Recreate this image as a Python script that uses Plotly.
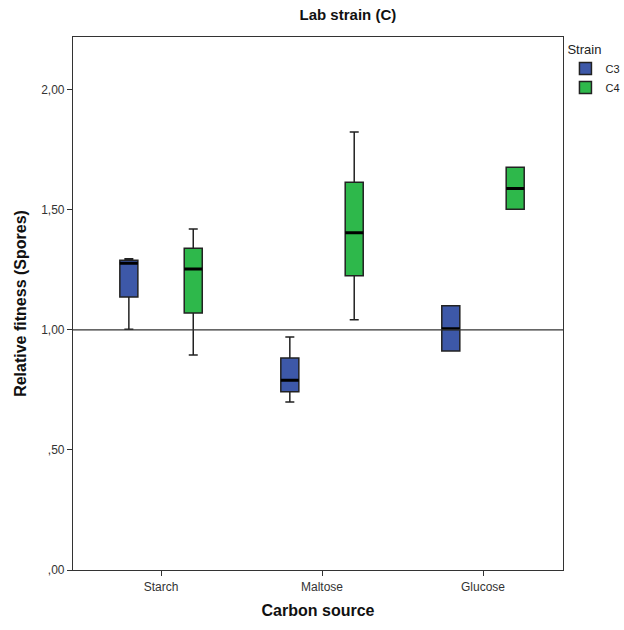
import plotly.graph_objects as go

categories = ["Starch", "Maltose", "Glucose"]
# box statistics
c3_low = [1.003, 0.70, 0.9125]
c3_q1 = [1.1375, 0.742, 0.9125]
c3_med = [1.278, 0.79, 1.005]
c3_q3 = [1.29, 0.883, 1.101]
c3_high = [1.296, 0.97, 1.101]

c4_low = [0.896, 1.042, 1.503]
c4_q1 = [1.07, 1.226, 1.503]
c4_med = [1.254, 1.405, 1.589]
c4_q3 = [1.34, 1.615, 1.678]
c4_high = [1.42, 1.824, 1.678]

tick_vals = [0, 0.5, 1.0, 1.5, 2.0]
tick_text = [",00", ",50", "1,00", "1,50", "2,00"]

BLUE = "#3d58a8"
GREEN = "#2eb84b"
FONT = "Liberation Sans, Arial, sans-serif"

fig = go.Figure()
for name, color, lo, q1, med, q3, hi in [
    ("C3", BLUE, c3_low, c3_q1, c3_med, c3_q3, c3_high),
    ("C4", GREEN, c4_low, c4_q1, c4_med, c4_q3, c4_high),
]:
    fig.add_trace(go.Box(
        name=name, x=categories, q1=q1, median=med, q3=q3,
        lowerfence=lo, upperfence=hi, offsetgroup=name,
        fillcolor=color, line=dict(color="#222222", width=1.5),
        whiskerwidth=0.5, boxpoints=False,
    ))
    # thicker median bars
    fig.add_trace(go.Box(
        name=name, x=categories, q1=med, median=med, q3=med,
        lowerfence=med, upperfence=med, offsetgroup=name,
        fillcolor="rgba(0,0,0,0)", line=dict(color="black", width=3),
        whiskerwidth=0, boxpoints=False, showlegend=False, hoverinfo="skip",
    ))

fig.add_shape(type="line", xref="paper", x0=0, x1=1, yref="y", y0=1, y1=1,
              line=dict(color="#333333", width=1.2))

fig.update_layout(
    width=624, height=630,
    margin=dict(l=73, r=61, t=37, b=60, autoexpand=False),
    paper_bgcolor="white", plot_bgcolor="white",
    boxmode="group", boxgap=0.2, boxgroupgap=0.72,
    font=dict(family=FONT, size=12, color="#222222"),
    title=dict(text="<b>Lab strain (C)</b>", x=0.561, xref="paper", xanchor="center",
               y=0.985, yref="container", yanchor="top",
               font=dict(size=15, color="#111111")),
    legend=dict(title=dict(text="Strain", font=dict(size=13)),
                x=1.005, xanchor="left", y=1.0, yanchor="top",
                font=dict(size=11), tracegroupgap=0, itemwidth=30),
    showlegend=True,
)
fig.update_xaxes(
    type="category", range=[-0.547, 2.497],
    showline=True, linecolor="#333333", linewidth=1.2, mirror=True,
    ticks="outside", ticklen=5, tickcolor="#333333",
    tickfont=dict(size=12, color="#333333"), showgrid=False,
    title=dict(text="<b>Carbon source</b>", font=dict(size=16, color="#111111"), standoff=12),
)
fig.update_yaxes(
    range=[0, 2.22], tickvals=tick_vals, ticktext=tick_text,
    showline=True, linecolor="#333333", linewidth=1.2, mirror=True,
    ticks="outside", ticklen=5, tickcolor="#333333",
    tickfont=dict(size=12, color="#333333"), showgrid=False, zeroline=False,
    title=dict(text="<b>Relative fitness (Spores)</b>", font=dict(size=16, color="#111111"), standoff=10),
)

fig.write_html("out.html")
